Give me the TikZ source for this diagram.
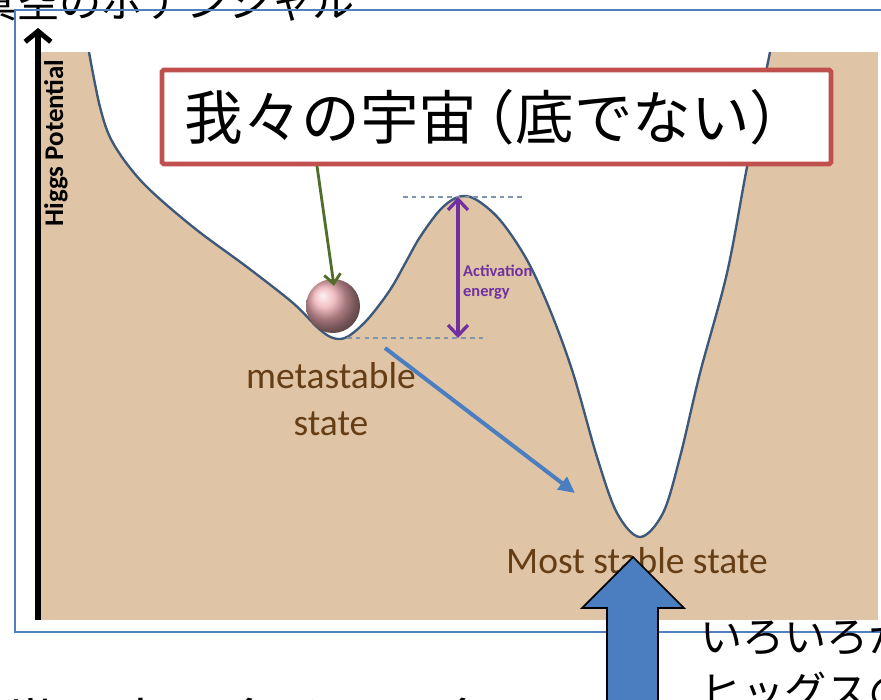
\documentclass[tikz,border=0pt]{standalone}
\usepackage{fontspec}
\setmainfont{Carlito}
\newfontfamily\jp{Noto Sans CJK JP}
\usetikzlibrary{arrows.meta, positioning}

\definecolor{sand}{RGB}{224,196,166}
\definecolor{curveblue}{RGB}{60,88,122}
\definecolor{frameblue}{RGB}{79,129,189}
\definecolor{boxred}{RGB}{192,80,77}
\definecolor{labelbrown}{RGB}{102,62,22}
\definecolor{actpurple}{RGB}{112,48,160}
\definecolor{leafgreen}{RGB}{79,110,40}
\definecolor{dashgrey}{RGB}{130,148,172}
\definecolor{jumpblue}{RGB}{74,126,192}
\definecolor{ballpink}{RGB}{238,172,178}

% potential curve, in pixel units
\newcommand\wellcurve{plot[smooth, tension=0.55] coordinates {
  (89,52) (100,107) (113,143) (143,183) (193,227) (247,267) (293,303)
  (318,328) (333,338) (347,337) (367,320) (390,290) (407,260) (420,237)
  (440,210) (458,197) (475,199) (500,220) (527,260) (550,310) (573,373)
  (597,457) (617,513) (640,537) (663,513) (680,457) (700,373)
  (727,273) (747,167) (770,52)}}

\begin{document}
\begin{tikzpicture}[x=0.03cm, y=-0.03cm,
    jtext/.style={font=\jp\fontsize{36pt}{44pt}\selectfont, inner sep=0pt},
    lbl/.style={text=labelbrown, font=\fontsize{32pt}{40pt}\selectfont, inner sep=0pt, anchor=base},
    level/.style={dashgrey, line width=1.2pt, dash pattern=on 4pt off 3.5pt},
    arrow/.style={-{Triangle[length=14pt, width=13pt]}, line width=3.4pt, jumpblue}
]
\useasboundingbox (0,0) rectangle (881,699);
\clip (0,0) rectangle (881,699);

% Slide text and frame
\node[jtext, anchor=base west] (title) at (-25,17) {真空のポテンシャル};
\draw[frameblue, line width=1.6pt] (15,10) rectangle (900,632);

% Potential landscape
\fill[sand] (40,52) rectangle (878,620);
\fill[white] \wellcurve -- cycle;
\draw[curveblue, line width=2pt] \wellcurve;

% Energy levels
\draw[level] (403,197) -- (522,197);
\draw[level] (347,338) -- (483,338);

% Nodes
\node[draw=boxred, line width=4pt, fill=white, rounded corners=1.5pt,
      minimum width=20.07cm, minimum height=2.82cm, inner sep=0pt,
      font=\jp\fontsize{50pt}{58pt}\selectfont] (universe) at (496.5,117)
      {我々の宇宙\kern-0.35em（底でない）};
\node[circle, shading=ball, ball color=ballpink, minimum size=1.62cm, inner sep=0pt] (ball) at (333,306) {};

\node[lbl] (meta) at (331,388) {metastable};
\node[lbl] (metastate) at (331,435) {state};
\node[lbl] (stable) at (637,573) {Most stable state};
\node[actpurple, font=\bfseries\fontsize{14pt}{17pt}\selectfont, align=left,
      anchor=north west, inner sep=0pt] (act) at (463,265) {Activation\\energy};
\node[rotate=90, font=\bfseries\fontsize{23pt}{28pt}\selectfont, inner sep=0pt] (higgs) at (56,143) {Higgs Potential};

\coordinate (axisfoot) at (38,620);
\coordinate (axistop) at (38,28);
\coordinate (peak) at (458,197);
\coordinate (metamin) at (458,338);
\coordinate (fall) at (317,166);
\coordinate (leave) at (385,348);
\coordinate (arrive) at (575,493);

% Arrows
\draw[line width=4.3pt, -{Straight Barb[length=9pt, width=22pt]}] (axisfoot) -- (axistop);
\draw[actpurple, line width=2.8pt, {Straight Barb[length=9pt, width=17pt]}-{Straight Barb[length=9pt, width=17pt]}] (peak) -- (metamin);
\draw[leafgreen, line width=2.4pt, -{Straight Barb[length=8pt, width=14pt]}, shorten >=-6pt] (fall) -- (ball.north);
\draw[arrow] (leave) -- (arrive);

% Big arrow pointing at the true vacuum
\draw[fill=jumpblue, draw=black, line width=1.5pt]
  (633,557) -- (684,608) -- (658,608) -- (658,720) -- (607,720) -- (607,608) -- (582,608) -- cycle;

\node[jtext, anchor=base west] (note1) at (700,652) {いろいろか};
\node[jtext, anchor=base west] (note2) at (700,707) {ヒッグスの};
\node[jtext, font=\jp\fontsize{47pt}{56pt}\selectfont, anchor=base west] (foot) at (3,744) {世の中の多くの現象};

\end{tikzpicture}
\end{document}
